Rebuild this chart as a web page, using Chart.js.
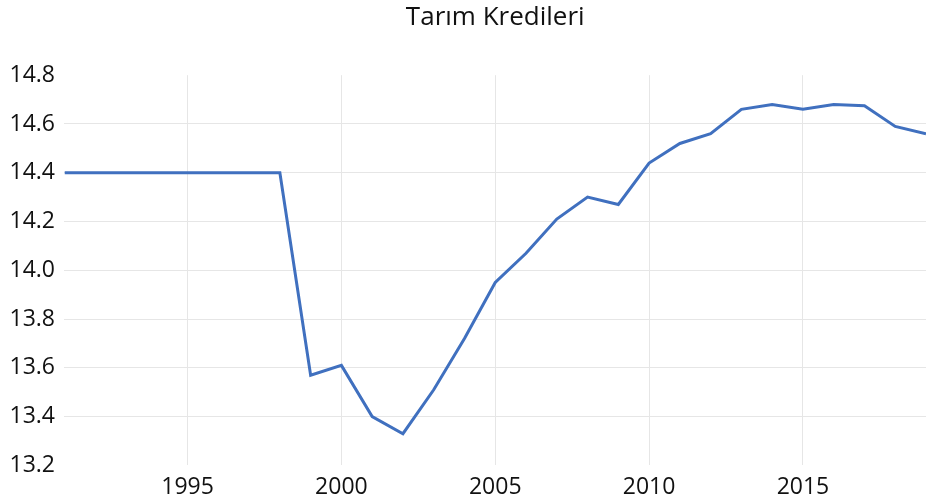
<!DOCTYPE html>
<html>
<head>
<meta charset="utf-8">
<script src="https://cdn.jsdelivr.net/npm/chart.js@4/dist/chart.umd.min.js"></script>
<style>
  html, body { margin: 0; padding: 0; background: #fff; }
  #wrap { width: 931px; height: 498px; }
</style>
</head>
<body>
<div id="wrap"><canvas id="chart"></canvas></div>
<script>
// dados
const anos = [1991, 1992, 1993, 1994, 1995, 1996, 1997, 1998, 1999, 2000,
              2001, 2002, 2003, 2004, 2005, 2006, 2007, 2008, 2009, 2010,
              2011, 2012, 2013, 2014, 2015, 2016, 2017, 2018, 2019];
const credito = [14.40, 14.40, 14.40, 14.40, 14.40, 14.40, 14.40, 14.40, 13.57, 13.61,
                 13.40, 13.33, 13.51, 13.72, 13.95, 14.07, 14.21, 14.30, 14.27, 14.44,
                 14.52, 14.56, 14.66, 14.68, 14.66, 14.68, 14.675, 14.59, 14.56];
const yTicks = [13.2, 13.4, 13.6, 13.8, 14.0, 14.2, 14.4, 14.6, 14.8];
const xTicks = [1995, 2000, 2005, 2010, 2015];

const fonte = "'Open Sans', sans-serif";
const grade = '#e6e6e6';

new Chart(document.getElementById('chart'), {
    type: 'line',
    data: {
        datasets: [{
            label: 'Tarım Kredileri',
            data: anos.map((a, i) => ({ x: a, y: credito[i] })),
            borderColor: '#4070bf',
            borderWidth: 3,
            pointRadius: 0,
            tension: 0,
            fill: false
        }]
    },
    options: {
        responsive: true,
        maintainAspectRatio: false,
        animation: false,
        layout: { padding: { left: 0, right: 5, top: 0, bottom: -11 } },
        plugins: {
            legend: { display: false },
            tooltip: { enabled: false },
            title: {
                display: true,
                text: 'Tarım Kredileri',
                fullSize: false,
                color: '#111',
                font: { family: fonte, size: 26, weight: 'normal' },
                padding: { top: 2, bottom: 42 }
            }
        },
        scales: {
            x: {
                type: 'linear',
                min: anos[0],
                max: anos[anos.length - 1],
                afterBuildTicks: s => { s.ticks = xTicks.map(v => ({ value: v })); },
                grid: { color: grade, lineWidth: 1, drawTicks: false },
                border: { display: false },
                ticks: {
                    color: '#111',
                    padding: 8,
                    maxRotation: 0,
                    font: { family: fonte, size: 23 },
                    callback: v => String(v)
                }
            },
            y: {
                min: yTicks[0],
                max: yTicks[yTicks.length - 1],
                afterBuildTicks: s => { s.ticks = yTicks.map(v => ({ value: v })); },
                grid: {
                    drawTicks: false,
                    lineWidth: 1,
                    color: ctx => (ctx.index === 0 || ctx.index === yTicks.length - 1) ? 'rgba(0,0,0,0)' : grade
                },
                border: { display: false },
                ticks: {
                    color: '#111',
                    padding: 9.5,
                    font: { family: fonte, size: 23 },
                    callback: v => Number(v).toFixed(1)
                }
            }
        }
    }
});
</script>
</body>
</html>
